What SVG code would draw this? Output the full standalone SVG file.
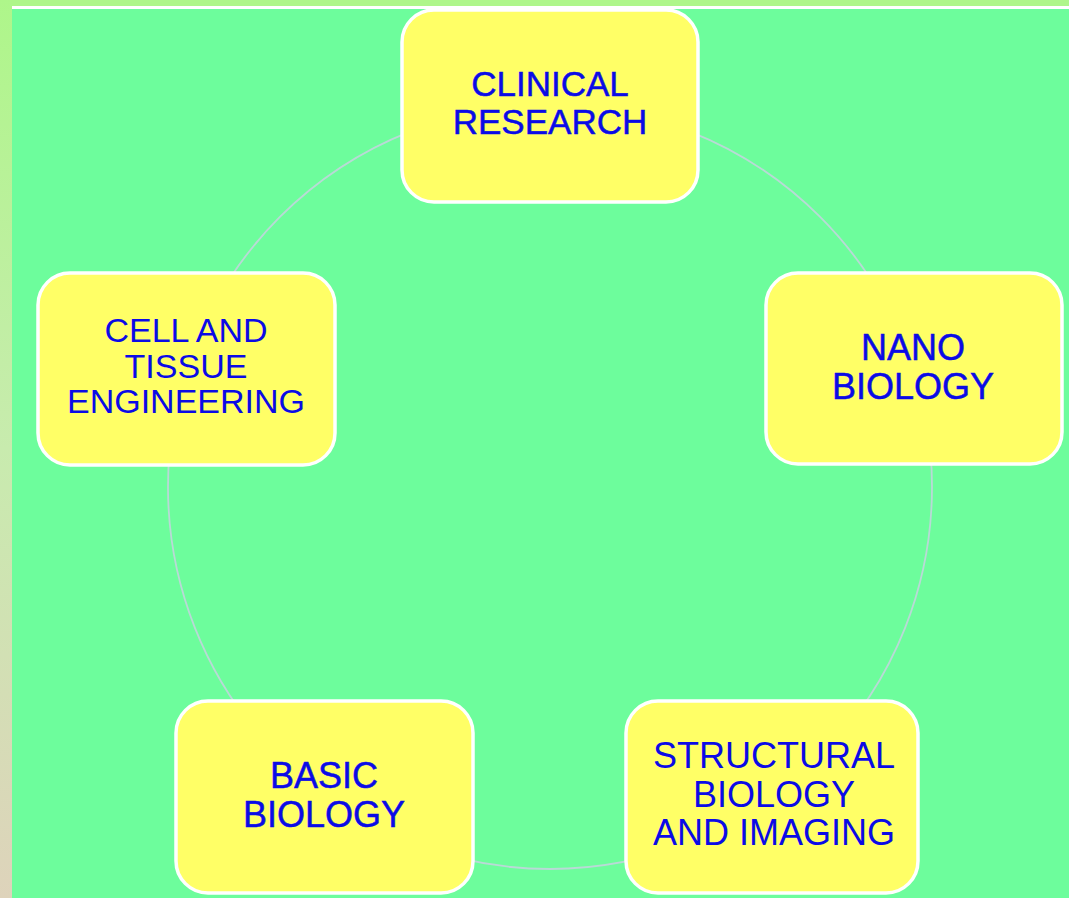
<svg xmlns="http://www.w3.org/2000/svg" width="1069" height="898" viewBox="0 0 1069 898">
<defs>
<linearGradient id="side" x1="0" y1="0" x2="0" y2="1">
<stop offset="0" stop-color="#AEF68A"/>
<stop offset="0.5" stop-color="#C8EBAE"/>
<stop offset="1" stop-color="#DED3BB"/>
</linearGradient>
<style>
.box{fill:#FFFF66;stroke:#FFFFFF;stroke-width:3.5}
.lbl{font-family:"Liberation Sans",Arial,sans-serif;font-size:36px;fill:#0B0BE6;text-anchor:middle}
.heavy{stroke:#0B0BE6;stroke-width:0.5}
.ring{fill:none;stroke:#B9D9D6;stroke-width:1.8}
</style>
</defs>
<rect x="0" y="0" width="1069" height="898" fill="#6DFD9C"/>
<rect x="0" y="0" width="1069" height="6" fill="#AEF68A"/>
<rect x="12" y="6" width="1057" height="3" fill="#FFFFFF"/>
<rect x="0" y="0" width="12" height="898" fill="url(#side)"/>
<g id="connectors">
<circle class="ring" cx="550" cy="487" r="382"/>
</g>
<g id="clinical-research">
<rect class="box" x="402" y="10" width="296" height="192" rx="32"/>
<text class="lbl heavy" x="550" y="96" style="font-size:35px">CLINICAL</text>
<text class="lbl heavy" x="550" y="134" style="font-size:35px">RESEARCH</text>
</g>
<g id="nano-biology">
<rect class="box" x="766" y="273" width="296" height="191" rx="32"/>
<text class="lbl heavy" x="913" y="360">NANO</text>
<text class="lbl heavy" x="913" y="399">BIOLOGY</text>
</g>
<g id="structural-biology">
<rect class="box" x="626" y="701" width="292" height="192" rx="32"/>
<text class="lbl" x="774" y="768">STRUCTURAL</text>
<text class="lbl" x="774" y="807">BIOLOGY</text>
<text class="lbl" x="774" y="845">AND IMAGING</text>
</g>
<g id="basic-biology">
<rect class="box" x="176" y="701" width="297" height="192" rx="32"/>
<text class="lbl heavy" x="324" y="788">BASIC</text>
<text class="lbl heavy" x="324" y="827">BIOLOGY</text>
</g>
<g id="cell-tissue">
<rect class="box" x="38" y="273" width="297" height="192" rx="32"/>
<text class="lbl" x="186" y="342" style="font-size:34px">CELL AND</text>
<text class="lbl" x="186" y="378" style="font-size:34px">TISSUE</text>
<text class="lbl" x="186" y="413" style="font-size:34px">ENGINEERING</text>
</g>
</svg>
